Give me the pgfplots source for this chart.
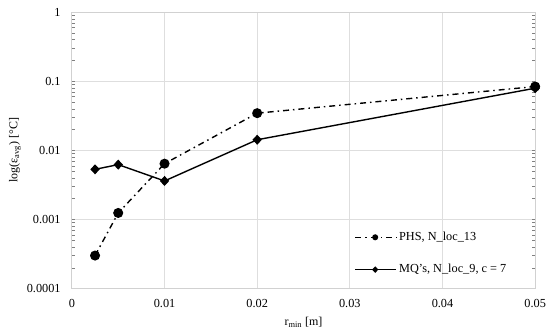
\documentclass[border=0pt]{standalone}
\usepackage{fontspec}
\setmainfont{Liberation Serif}
\usepackage{pgfplots}
\pgfplotsset{compat=1.18}
\begin{document}
\fontsize{12.3bp}{14.5bp}\selectfont
\begin{tikzpicture}
\begin{axis}[
  scale only axis,
  width=464bp, height=277bp,
  xmin=0, xmax=0.05,
  scaled x ticks=false,
  ymode=log, ymin=1e-4, ymax=1,
  xtick={0,0.01,0.02,0.03,0.04,0.05},
  xticklabels={0,0.01,0.02,0.03,0.04,0.05},
  ytick={1e-4,1e-3,1e-2,1e-1,1},
  yticklabels={0.0001,0.001,0.01,0.1,1},
  minor ytick={},
  major tick length=0pt,
  xmajorgrids, ymajorgrids,
  grid style={draw=black!13, line width=0.9bp},
  axis line style={draw=black!18, line width=0.9bp},
  tick label style={font=\fontsize{12.3bp}{14.5bp}\selectfont},
  xticklabel style={yshift=-6bp},
  yticklabel style={xshift=-7bp},
  xlabel={r\textsubscript{min} [m]},
  ylabel={log(ε\textsubscript{avg}) [°C]},
  label style={font=\fontsize{12bp}{14bp}\selectfont},
  xlabel style={at={(axis description cs:0.5,-0.123)}, anchor=center},
  ylabel style={at={(axis description cs:-0.123,0.5)}, anchor=center, rotate=0},
  legend style={draw=none, fill=none, at={(0.61,0.212)}, anchor=north west,
    font=\fontsize{12.3bp}{14.5bp}\selectfont, row sep=18bp, inner sep=0pt},
  legend cell align=left,
  legend image code/.code={
    \draw[mark repeat=2, mark phase=2, mark size=2.3pt] plot coordinates {(0cm,0cm) (0.7cm,0cm) (1.45cm,0cm)};
  },
]
\addplot[black, line width=1.4bp, dash pattern=on 6bp off 4bp on 1.5bp off 4bp,
  mark=*, mark size=4.3bp, mark options={solid}]
  coordinates {(0.0025,0.00030) (0.005,0.00124) (0.01,0.0064) (0.02,0.0344) (0.05,0.0835)};
\addlegendentry{PHS, N\_loc\_13}
\addplot[black, line width=1.4bp, mark=diamond*, mark size=4bp, mark options={solid, xscale=1.25}]
  coordinates {(0.0025,0.0053) (0.005,0.0062) (0.01,0.0036) (0.02,0.0142) (0.05,0.079)};
\addlegendentry{MQ's, N\_loc\_9, c = 7}
\end{axis}
\path[use as bounding box] ([xshift=-72bp,yshift=-45bp]current axis.south west) rectangle ([xshift=14bp,yshift=12bp]current axis.north east);
\end{tikzpicture}
\end{document}
